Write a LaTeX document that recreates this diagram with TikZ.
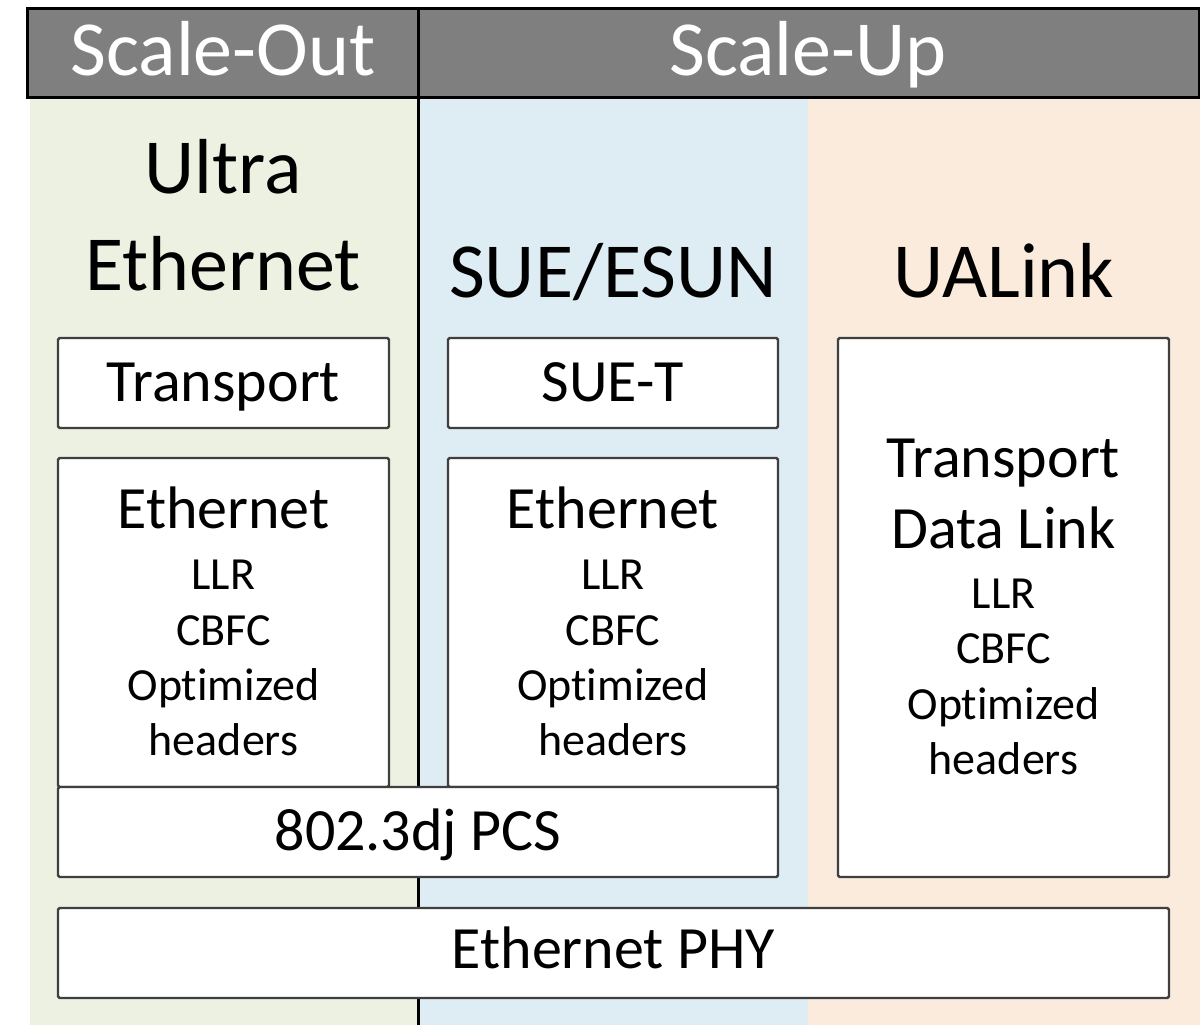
\documentclass[tikz,border=0pt]{standalone}
\usepackage{fontspec}
\setmainfont{Carlito}[RawFeature={-liga;-clig;-calt;-dlig}]
\usetikzlibrary{fit}
\definecolor{colgreen}{HTML}{EDF1E2}
\definecolor{colblue}{HTML}{DEECF3}
\definecolor{colpeach}{HTML}{FAEBDD}
\definecolor{hdrgray}{HTML}{7F7F7F}
\definecolor{boxline}{HTML}{3F3F3F}
\newcommand{\optword}{Opt\kern0pt imized}
\tikzset{
  box/.style={draw=boxline, line width=1.2pt, fill=white, inner sep=0pt, rounded corners=0.8pt},
  hdrbox/.style={draw=black, line width=1.5pt, fill=hdrgray, inner sep=0pt},
  txt/.style={inner sep=0pt, anchor=base, text=black},
  hdrtxt/.style={txt, text=white, font=\fontsize{39pt}{46pt}\selectfont},
  bigtxt/.style={txt, font=\fontsize{39pt}{46pt}\selectfont},
  midtxt/.style={txt, font=\fontsize{30pt}{36pt}\selectfont},
  smalltxt/.style={txt, font=\fontsize{23pt}{27.5pt}\selectfont},
  divider/.style={draw=black, line width=1.5pt}
}
\begin{document}
\begin{tikzpicture}[x=0.5pt, y=-0.5pt]
\useasboundingbox (0,0) rectangle (1200,1025);
% column backgrounds
\fill[colgreen] (30,97) rectangle (418,1025);
\fill[colblue] (418,97) rectangle (808,1025);
\fill[colpeach] (808,97) rectangle (1200,1025);
% header
\node[hdrbox, fit={(27,8) (1199,97)}] (hdr) {};
\coordinate (divtop) at (418,8);
\coordinate (divbot) at (418,1025);
\draw[divider] (divtop) -- (divbot);
% header texts
\node[hdrtxt] (scaleout) at (223,75) {Scale-Out};
\node[hdrtxt] (scaleup) at (808,75) {Scale-Up};
% column headings
\node[bigtxt] (ultra) at (223,193) {Ultra};
\node[bigtxt] (ueth) at (223,290) {Ethernet};
\node[bigtxt] (sueesun) at (613,297) {SUE/ESUN};
\node[bigtxt] (ualink) at (1004,297) {UALink};
% boxes
\node[box, fit={(58,338) (389,428)}] (tUE) {};
\node[box, fit={(448,338) (778,428)}] (tSUE) {};
\node[box, fit={(58,458) (389,787)}] (eUE) {};
\node[box, fit={(448,458) (778,787)}] (eSUE) {};
\node[box, fit={(838,338) (1169,877)}] (ual) {};
\node[box, fit={(58,787) (778,877)}] (pcs) {};
\node[box, fit={(58,908) (1169,998)}] (phy) {};
% box texts
\node[midtxt] (tUEt) at (223.5,401) {Transport};
\node[midtxt] (tSUEt) at (613,401) {SUE-T};
\node[midtxt] (eUEt) at (223.5,528) {Ethernet};
\node[smalltxt] (eUE1) at (223.5,589) {LLR};
\node[smalltxt] (eUE2) at (223.5,645) {CBFC};
\node[smalltxt] (eUE3) at (223.5,700) {\optword};
\node[smalltxt] (eUE4) at (223.5,755) {headers};
\node[midtxt] (eSUEt) at (613,528) {Ethernet};
\node[smalltxt] (eSUE1) at (613,589) {LLR};
\node[smalltxt] (eSUE2) at (613,645) {CBFC};
\node[smalltxt] (eSUE3) at (613,700) {\optword};
\node[smalltxt] (eSUE4) at (613,755) {headers};
\node[midtxt] (ualt1) at (1003.5,477) {Transport};
\node[midtxt] (ualt2) at (1003.5,548) {Data Link};
\node[smalltxt] (ual1) at (1003.5,608) {LLR};
\node[smalltxt] (ual2) at (1003.5,663) {CBFC};
\node[smalltxt] (ual3) at (1003.5,719) {\optword};
\node[smalltxt] (ual4) at (1003.5,774) {headers};
\node[midtxt] (pcst) at (418,850) {802.3dj PCS};
\node[midtxt] (phyt) at (613.5,968) {Ethernet PHY};
\end{tikzpicture}
\end{document}
